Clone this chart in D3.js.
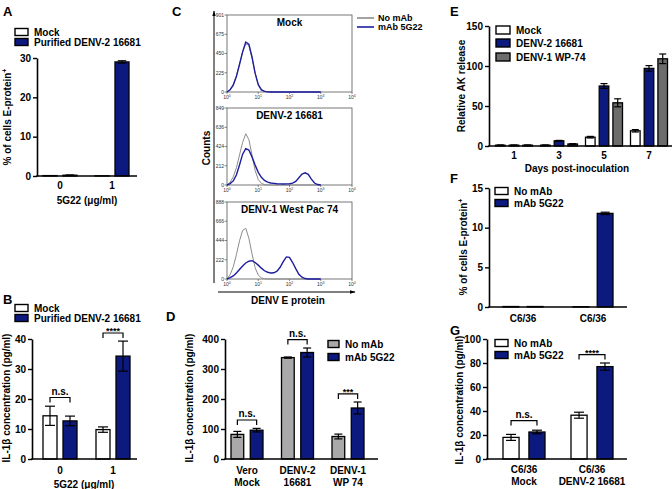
<!DOCTYPE html>
<html><head><meta charset="utf-8">
<script src="https://cdn.jsdelivr.net/npm/d3@7"></script>
<style>
body{margin:0;background:#fff}
svg{display:block;font-family:"Liberation Sans",Arial,sans-serif;font-weight:bold}
</style></head><body>
<svg id="c" width="672" height="489"></svg>
<script>
// ================= DATA =================
// Panel A
const aCats = ["0", "1"];
const aMock = [0.1, 0.05];
const aMockErr = [0, 0];
const aDenv = [0.2, 29.0];
const aDenvErr = [0.05, 0.3];
const aTicks = [0, 10, 20, 30];

// Panel B
const bCats = ["0", "1"];
const bMock = [14.4, 9.8];
const bMockErr = [3.2, 0.9];
const bDenv = [12.7, 34.3];
const bDenvErr = [1.6, 5.0];
const bTicks = [0, 10, 20, 30, 40];
const bSig = ["n.s.", "****"];
const bSigLevel = [20.5, 42];

// Panel C (flow histograms, x = log10 fluorescence)
const cBins = [0,0.1,0.2,0.3,0.4,0.5,0.6,0.7,0.8,0.9,1.0,1.1,1.2,1.3,1.4,1.5,1.6,1.7,1.8,1.9,2.0,2.1,2.2,2.3,2.4,2.5,2.6,2.7,2.8,2.9,3.0];
const cMockNo    = [0,30,90,190,330,470,565,545,400,220,90,30,10,3,0,0,0,0,0,0,0,0,0,0,0,0,0,0,0,0,0];
const cMock5G22  = [0,25,80,180,320,470,585,560,410,220,85,25,8,2,0,0,0,0,0,0,0,0,0,0,0,0,0,0,0,0,0];
const cD2No      = [0,30,90,190,330,470,565,500,330,160,60,18,5,0,0,0,0,0,0,0,0,0,0,0,0,0,0,0,0,0,0];
const cD25G22    = [0,15,45,110,220,340,400,385,310,220,140,85,50,32,22,18,14,12,11,12,14,20,40,80,120,135,118,65,22,5,0];
const cD1No      = [0,50,140,280,440,560,585,470,290,130,45,12,3,0,0,0,0,0,0,0,0,0,0,0,0,0,0,0,0,0,0];
const cD15G22    = [0,15,35,70,110,150,185,205,212,190,160,125,95,78,70,72,90,135,200,255,250,190,120,55,20,5,0,0,0,0,0];
const cTitles = ["Mock", "DENV-2 16681", "DENV-1 West Pac 74"];
const cYTicks = [[0,225,450,675,901],[0,212,424,636,849],[0,222,444,666,888]];
const cXTicks = [0, 1, 2, 3, 4];
const cSeries = ["No mAb", "mAb 5G22"];

// Panel D
const dCatLines = [["Vero","Mock"],["DENV-2","16681"],["DENV-1","WP 74"]];
const dNo = [82, 338, 75];
const dNoErr = [10, 2, 8];
const dMab = [96, 355, 170];
const dMabErr = [6, 15, 20];
const dTicks = [0, 100, 200, 300, 400];
const dSig = ["n.s.", "n.s.", "***"];
const dSigLevel = [130, 398, 217];

// Panel E
const eCats = ["1", "3", "5", "7"];
const eMock = [1, 1, 11, 19];
const eMockErr = [0.3, 0.3, 1, 1.5];
const eD2 = [1, 6.5, 75, 97];
const eD2Err = [0.3, 0.5, 3, 3.5];
const eD1 = [1, 2.5, 54, 109];
const eD1Err = [0.3, 0.4, 5, 6];
const eTicks = [0, 50, 100, 150];

// Panel F
const fCatLines = [["C6/36"],["C6/36"]];
const fNo = [0.06, 0.03];
const fNoErr = [0, 0];
const fMab = [0.06, 11.8];
const fMabErr = [0, 0.15];
const fTicks = [0, 5, 10, 15];

// Panel G
const gCatLines = [["C6/36","Mock"],["C6/36","DENV-2 16681"]];
const gNo = [18, 36.5];
const gNoErr = [2.5, 2.5];
const gMab = [22.5, 77];
const gMabErr = [1.5, 3];
const gTicks = [0, 20, 40, 60, 80, 100];
const gSig = ["n.s.", "****"];
const gSigLevel = [32, 87];

// ================= DRAWING =================
const svg = d3.select("#c");
const NAVY = "#0c1a80";
const GRAYD = "#a9a9a9";
const GRAYE = "#6c6c6c";

function letter(t, x, y){
  svg.append("text").attr("x", x).attr("y", y).attr("font-size", 13).text(t);
}

function legend(x, ys, items, w, h){
  const g = svg.append("g");
  items.forEach((it, i) => {
    g.append("rect").attr("x", x).attr("y", ys[i] - h/2).attr("width", w).attr("height", h)
      .attr("fill", it.fill).attr("stroke", "#000").attr("stroke-width", 1.4);
    g.append("text").attr("x", x + w + 6).attr("y", ys[i] + 3.6).attr("font-size", 10).text(it.name);
  });
}

function yTitle(x, cy, text, sup){
  const t = svg.append("text").attr("transform", `translate(${x},${cy}) rotate(-90)`)
    .attr("text-anchor", "middle").attr("font-size", 10).text(text);
  if (sup) t.append("tspan").attr("dy", -4).attr("font-size", 7).text(sup);
}

function barPanel(o){
  const g = svg.append("g");
  const n = o.labels.length;
  const y = d3.scaleLinear().domain([0, o.yMax]).range([o.yBottom, o.yTop]);
  const x = d3.scalePoint().domain(d3.range(n)).range(o.centers);
  const inner = d3.scaleBand().domain(o.series.map(s => s.name)).range([-o.half, o.half]).paddingInner(o.pad);
  const bw = inner.bandwidth();
  const capW = o.cap || bw * 0.6;
  // bars
  o.series.forEach(s => {
    s.values.forEach((v, i) => {
      const bx = x(i) + inner(s.name);
      g.append("rect").attr("x", bx).attr("y", y(v)).attr("width", bw)
        .attr("height", Math.max(0, y(0) - y(v)))
        .attr("fill", s.fill).attr("stroke", "#000").attr("stroke-width", 1.3);
      const e = s.errs[i];
      if (e > 0) {
        const cx = bx + bw/2;
        g.append("line").attr("x1", cx).attr("x2", cx).attr("y1", y(v + e)).attr("y2", y(Math.max(0, v - e)))
          .attr("stroke", "#000").attr("stroke-width", 1.2);
        [v + e, Math.max(0, v - e)].forEach(val => {
          g.append("line").attr("x1", cx - capW/2).attr("x2", cx + capW/2).attr("y1", y(val)).attr("y2", y(val))
            .attr("stroke", "#000").attr("stroke-width", 1.2);
        });
      }
    });
  });
  // y axis
  const ya = g.append("g").attr("transform", `translate(${o.axisX},0)`)
    .call(d3.axisLeft(y).tickValues(o.ticks).tickSize(4).tickSizeOuter(0).tickPadding(2));
  ya.select(".domain").attr("stroke", "#000").attr("stroke-width", 1.6);
  ya.selectAll(".tick line").attr("stroke", "#000").attr("stroke-width", 1.4);
  ya.selectAll("text").attr("font-size", 10).attr("font-family", "Liberation Sans, Arial, sans-serif")
    .attr("font-weight", "bold").attr("fill", "#000");
  // x axis line
  g.append("line").attr("x1", o.axisX - 0.8).attr("x2", o.xRight).attr("y1", y(0)).attr("y2", y(0))
    .attr("stroke", "#000").attr("stroke-width", 1.6);
  // category labels
  o.labels.forEach((lines, i) => {
    lines.forEach((ln, k) => {
      g.append("text").attr("x", x(i)).attr("y", o.labelY + k * 12).attr("text-anchor", "middle")
        .attr("font-size", 10).text(ln);
    });
  });
  // significance
  if (o.sig) {
    o.sig.forEach((t, i) => {
      if (!t) return;
      const x1 = x(i) + inner(o.series[0].name) + bw/2;
      const x2 = x(i) + inner(o.series[1].name) + bw/2;
      const yy = y(o.sigLevel[i]);
      g.append("path").attr("d", `M${x1},${yy + 5}V${yy}H${x2}V${yy + 5}`)
        .attr("fill", "none").attr("stroke", "#000").attr("stroke-width", 1.2);
      const star = t.startsWith("*");
      g.append("text").attr("x", (x1 + x2)/2).attr("y", star ? yy + 1 : yy - 3).attr("text-anchor", "middle")
        .attr("font-size", star ? 9 : 10).text(t);
    });
  }
  return g;
}

// ---------- A ----------
letter("A", 3, 16);
legend(15, [32, 42], [{name:"Mock", fill:"#fff"}, {name:"Purified DENV-2 16681", fill:NAVY}], 13, 7);
barPanel({labels: aCats.map(c => [c]), yMax: 30, ticks: aTicks, yTop: 58, yBottom: 176,
  axisX: 37, xRight: 137, centers: [60, 112], half: 17, pad: 0.3, labelY: 189,
  series: [{name:"Mock", values:aMock, errs:aMockErr, fill:"#fff"},
           {name:"DENV", values:aDenv, errs:aDenvErr, fill:NAVY}]});
svg.append("text").attr("x", 87).attr("y", 204).attr("text-anchor", "middle").attr("font-size", 10).text("5G22 (\u03bcg/ml)");
yTitle(11, 117, "% of cells E-protein", "+");

// ---------- B ----------
letter("B", 3, 304);
legend(15, [308, 318], [{name:"Mock", fill:"#fff"}, {name:"Purified DENV-2 16681", fill:NAVY}], 13, 7);
barPanel({labels: bCats.map(c => [c]), yMax: 40, ticks: bTicks, yTop: 339, yBottom: 459,
  axisX: 32, xRight: 137, centers: [60, 113], half: 17, pad: 0.3, labelY: 474,
  sig: bSig, sigLevel: bSigLevel, cap: 10,
  series: [{name:"Mock", values:bMock, errs:bMockErr, fill:"#fff"},
           {name:"DENV", values:bDenv, errs:bDenvErr, fill:NAVY}]});
svg.append("text").attr("x", 84).attr("y", 488).attr("text-anchor", "middle").attr("font-size", 10).text("5G22 (\u03bcg/ml)");
yTitle(10, 398, "IL-1\u03b2 concentration (pg/ml)");

// ---------- C ----------
letter("C", 172, 16);
(function(){
  const g = svg.append("g");
  const x = d3.scaleLinear().domain([0, 4]).range([227, 352]);
  const tops = [15, 108, 202];
  const H = 77;
  const data = [[cMockNo, cMock5G22], [cD2No, cD25G22], [cD1No, cD15G22]];
  data.forEach((pair, p) => {
    const yMax = cYTicks[p][cYTicks[p].length - 1];
    const y = d3.scaleLinear().domain([0, yMax]).range([tops[p] + H, tops[p]]);
    g.append("rect").attr("x", x(0)).attr("y", tops[p]).attr("width", x(4) - x(0)).attr("height", H)
      .attr("fill", "none").attr("stroke", "#555").attr("stroke-width", 0.8);
    cYTicks[p].forEach(t => {
      g.append("line").attr("x1", x(0) - 2.5).attr("x2", x(0)).attr("y1", y(t)).attr("y2", y(t)).attr("stroke", "#555").attr("stroke-width", 0.7);
      g.append("text").attr("x", x(0) - 3).attr("y", y(t) + 1.8).attr("text-anchor", "end")
        .attr("font-size", 5).attr("font-weight", "normal").attr("fill", "#333").text(t);
    });
    cXTicks.forEach(t => {
      g.append("line").attr("x1", x(t)).attr("x2", x(t)).attr("y1", tops[p] + H).attr("y2", tops[p] + H + 2).attr("stroke", "#555").attr("stroke-width", 0.7);
      const tx = g.append("text").attr("x", x(t)).attr("y", tops[p] + H + 7).attr("text-anchor", "middle")
        .attr("font-size", 5).attr("font-weight", "normal").attr("fill", "#333").text("10");
      tx.append("tspan").attr("dy", -2).attr("font-size", 3.5).text(t);
    });
    const line = d3.line().x((d, i) => x(cBins[i])).y(d => y(d));
    g.append("path").attr("d", line(pair[0])).attr("fill", "none").attr("stroke", "#8c8c8c").attr("stroke-width", 1);
    g.append("path").attr("d", line(pair[1])).attr("fill", "none").attr("stroke", "#1d1d9e").attr("stroke-width", 1.4);
    g.append("text").attr("x", (x(0) + x(4))/2).attr("y", tops[p] + 11).attr("text-anchor", "middle")
      .attr("font-size", 10).text(cTitles[p]);
  });
  const defs = svg.append("defs");
  defs.append("marker").attr("id", "arr").attr("viewBox", "0 0 10 10").attr("refX", 9).attr("refY", 5)
    .attr("markerWidth", 6).attr("markerHeight", 6).attr("orient", "auto")
    .append("path").attr("d", "M0,2L10,5L0,8Z").attr("fill", "#000");
  g.append("line").attr("x1", 214).attr("x2", 214).attr("y1", 283).attr("y2", 11)
    .attr("stroke", "#000").attr("stroke-width", 1).attr("marker-end", "url(#arr)");
  g.append("line").attr("x1", 218).attr("x2", 355).attr("y1", 292).attr("y2", 292)
    .attr("stroke", "#000").attr("stroke-width", 1).attr("marker-end", "url(#arr)");
  g.append("text").attr("x", 288).attr("y", 304).attr("text-anchor", "middle").attr("font-size", 10).text("DENV E protein");
  g.append("text").attr("transform", "translate(210,148) rotate(-90)").attr("text-anchor", "middle").attr("font-size", 10).text("Counts");
  const lc = ["#8c8c8c", "#1d1d9e"];
  cSeries.forEach((s, i) => {
    g.append("line").attr("x1", 357).attr("x2", 374).attr("y1", 18 + i*9).attr("y2", 18 + i*9)
      .attr("stroke", lc[i]).attr("stroke-width", 1.6);
    g.append("text").attr("x", 378).attr("y", 21 + i*9).attr("font-size", 9).text(s);
  });
})();

// ---------- D ----------
letter("D", 166, 321);
legend(328, [344, 357], [{name:"No mAb", fill:GRAYD}, {name:"mAb 5G22", fill:NAVY}], 11, 7);
barPanel({labels: dCatLines, yMax: 400, ticks: dTicks, yTop: 339, yBottom: 459,
  axisX: 225, xRight: 378, centers: [247, 348], half: 16, pad: 0.34, labelY: 474,
  sig: dSig, sigLevel: dSigLevel, cap: 8,
  series: [{name:"No", values:dNo, errs:dNoErr, fill:GRAYD},
           {name:"Mab", values:dMab, errs:dMabErr, fill:NAVY}]});
yTitle(193, 398, "IL-1\u03b2 concentration (pg/ml)");

// ---------- E ----------
letter("E", 450, 16);
legend(496, [30, 43, 57], [{name:"Mock", fill:"#fff"}, {name:"DENV-2 16681", fill:NAVY}, {name:"DENV-1 WP-74", fill:GRAYE}], 14, 8);
barPanel({labels: eCats.map(c => [c]), yMax: 150, ticks: eTicks, yTop: 26, yBottom: 146,
  axisX: 489, xRight: 672, centers: [514, 649], half: 18.5, pad: 0.3, labelY: 159, cap: 7,
  series: [{name:"Mock", values:eMock, errs:eMockErr, fill:"#fff"},
           {name:"D2", values:eD2, errs:eD2Err, fill:NAVY},
           {name:"D1", values:eD1, errs:eD1Err, fill:GRAYE}]});
svg.append("text").attr("x", 577).attr("y", 172).attr("text-anchor", "middle").attr("font-size", 10).text("Days post-inoculation");
yTitle(465, 86, "Relative AK release");

// ---------- F ----------
letter("F", 450, 183);
legend(495, [191, 203], [{name:"No mAb", fill:"#fff"}, {name:"mAb 5G22", fill:NAVY}], 13, 7);
barPanel({labels: fCatLines, yMax: 15, ticks: fTicks, yTop: 188, yBottom: 307,
  axisX: 489, xRight: 627, centers: [523, 593], half: 20, pad: 0.35, labelY: 322, cap: 9,
  series: [{name:"No", values:fNo, errs:fNoErr, fill:"#fff"},
           {name:"Mab", values:fMab, errs:fMabErr, fill:NAVY}]});
yTitle(467, 247, "% of cells E-protein", "+");

// ---------- G ----------
letter("G", 450, 335);
legend(495, [343, 355], [{name:"No mAb", fill:"#fff"}, {name:"mAb 5G22", fill:NAVY}], 13, 7);
barPanel({labels: gCatLines, yMax: 100, ticks: gTicks, yTop: 339, yBottom: 459,
  axisX: 487, xRight: 627, centers: [524, 592], half: 21, pad: 0.38, labelY: 473, cap: 10,
  sig: gSig, sigLevel: gSigLevel,
  series: [{name:"No", values:gNo, errs:gNoErr, fill:"#fff"},
           {name:"Mab", values:gMab, errs:gMabErr, fill:NAVY}]});
yTitle(463, 400, "IL-1\u03b2 concentration (pg/ml)");
</script>
</body></html>
